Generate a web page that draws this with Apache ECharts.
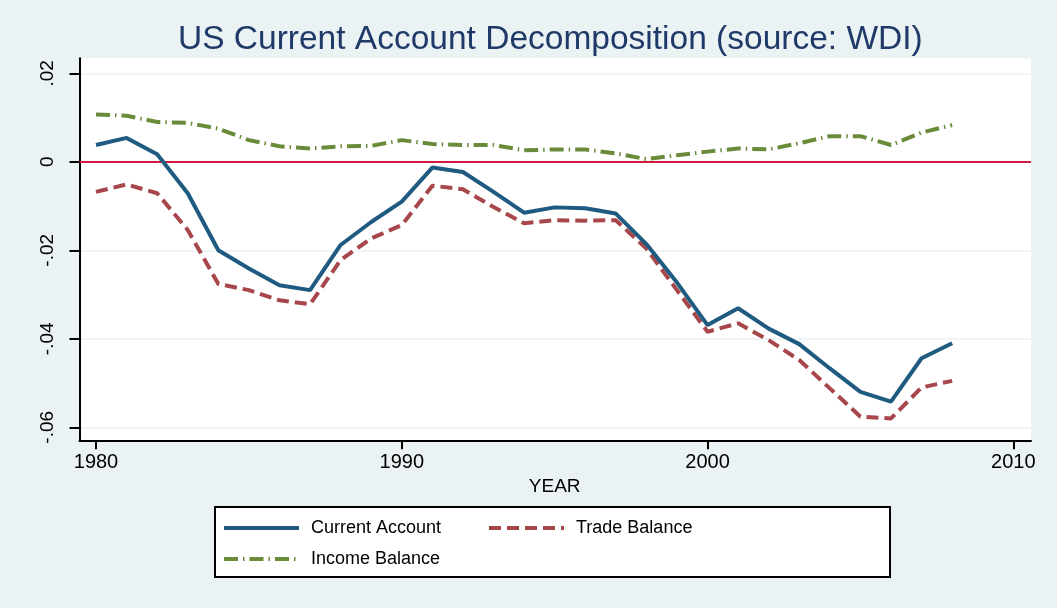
<!DOCTYPE html>
<html>
<head>
<meta charset="utf-8">
<script src="https://cdn.jsdelivr.net/npm/echarts@6/dist/echarts.min.js"></script>
<style>
html,body{margin:0;padding:0;background:#eaf2f3;}
#chart{width:1057px;height:608px;}
</style>
</head>
<body>
<div id="chart"></div>
<script>
const years = [1980,1981,1982,1983,1984,1985,1986,1987,1988,1989,1990,1991,1992,1993,1994,1995,1996,1997,1998,1999,2000,2001,2002,2003,2004,2005,2006,2007,2008];
const currentAccount = [0.0038,0.0054,0.0017,-0.0071,-0.0200,-0.0241,-0.0279,-0.0290,-0.0188,-0.0136,-0.0090,-0.0013,-0.0023,-0.0068,-0.0115,-0.0103,-0.0105,-0.0117,-0.0186,-0.0273,-0.0369,-0.0331,-0.0377,-0.0412,-0.0467,-0.0520,-0.0542,-0.0444,-0.0410];
const tradeBalance = [-0.0068,-0.0051,-0.0071,-0.0154,-0.0276,-0.0290,-0.0313,-0.0322,-0.0222,-0.0173,-0.0143,-0.0054,-0.0062,-0.0102,-0.0139,-0.0132,-0.0133,-0.0132,-0.0196,-0.0290,-0.0384,-0.0365,-0.0403,-0.0448,-0.0512,-0.0576,-0.0580,-0.0510,-0.0495];
const incomeBalance = [0.0107,0.0104,0.0090,0.0088,0.0075,0.0049,0.0035,0.0030,0.0035,0.0036,0.0049,0.0040,0.0038,0.0038,0.0026,0.0028,0.0028,0.0019,0.0006,0.0015,0.0023,0.0030,0.0028,0.0042,0.0058,0.0058,0.0038,0.0066,0.0083];
const yTickValues = [-0.06,-0.04,-0.02,0,0.02];
const yTickLabels = ['-.06','-.04','-.02','0','.02'];
const xTickValues = [1980,1990,2000,2010];
const seriesNames = ['Current Account','Trade Balance','Income Balance'];
const titleText = 'US Current Account Decomposition (source: WDI)';
const xAxisTitle = 'YEAR';

const FONT = '"Liberation Sans", Arial, Helvetica, sans-serif';
const pairs = arr => years.map((y, i) => [y, arr[i]]);
const yLabel = v => {
  const idx = yTickValues.findIndex(t => Math.abs(t - v) < 1e-9);
  return idx >= 0 ? yTickLabels[idx] : '';
};
const legendCommon = {
  padding: 0, itemWidth: 75, itemHeight: 16, selectedMode: false,
  itemStyle: {opacity: 0, borderWidth: 0},
  lineStyle: {width: 4},
  textStyle: {color: '#000', fontSize: 18, fontFamily: FONT, padding: [0,0,0,7]}
};

const chart = echarts.init(document.getElementById('chart'), null, {renderer: 'canvas'});
chart.setOption({
  backgroundColor: '#eaf2f3',
  animation: false,
  title: {
    text: titleText,
    left: 178, top: 23, padding: 0,
    textStyle: {color: '#1f3a68', fontSize: 33.5, fontWeight: 'normal', fontFamily: FONT}
  },
  grid: [
    {left: 79.5, right: 26, top: 58.3, bottom: 167.7, show: true, backgroundColor: '#ffffff', borderWidth: 0},
    {left: 79.5, right: 26, top: 73.3, bottom: 180.7},
    {left: 96, right: 43.7, top: 58.3, bottom: 167.7}
  ],
  xAxis: [
    {type: 'value', gridIndex: 0, min: 1979.46, max: 2010.579,
     axisLine: {show: true, onZero: false, lineStyle: {color: '#000', width: 2}},
     axisTick: {show: false}, axisLabel: {show: false}, splitLine: {show: false}},
    {type: 'value', gridIndex: 1, min: 1980, max: 2010, show: false},
    {type: 'value', gridIndex: 2, min: 1980, max: 2010, interval: 10,
     name: xAxisTitle, nameLocation: 'middle', nameGap: 37,
     nameTextStyle: {color: '#000', fontSize: 19, fontFamily: FONT},
     axisLine: {show: false, onZero: false},
     axisTick: {show: true, length: 9, lineStyle: {color: '#000', width: 2}},
     axisLabel: {show: true, color: '#000', fontSize: 20, fontFamily: FONT, margin: 12,
                 formatter: v => xTickValues.includes(v) ? String(v) : ''},
     splitLine: {show: false}}
  ],
  yAxis: [
    {type: 'value', gridIndex: 0, min: -0.06294, max: 0.02339,
     axisLine: {show: true, onZero: false, lineStyle: {color: '#000', width: 2}},
     axisTick: {show: false}, axisLabel: {show: false}, splitLine: {show: false}},
    {type: 'value', gridIndex: 1, min: -0.06, max: 0.02, interval: 0.02,
     axisLine: {show: false, onZero: false},
     axisTick: {show: true, length: 10, lineStyle: {color: '#000', width: 2}},
     axisLabel: {show: true, rotate: 90, color: '#000', fontSize: 19, fontFamily: FONT, margin: 22,
                 formatter: yLabel},
     splitLine: {show: true, lineStyle: {color: '#eaf2f3', width: 1.5}}},
    {type: 'value', gridIndex: 2, min: -0.06, max: 0.02, show: false}
  ],
  legend: [
    Object.assign({data: [seriesNames[0]], left: 222, top: 519}, legendCommon),
    Object.assign({data: [seriesNames[1]], left: 487, top: 519}, legendCommon),
    Object.assign({data: [seriesNames[2]], left: 222, top: 550}, legendCommon)
  ],
  graphic: [
    {type: 'rect', z: -1, shape: {x: 215, y: 507, width: 675, height: 70},
     style: {fill: '#ffffff', stroke: '#000000', lineWidth: 2}}
  ],
  series: [
    {name: seriesNames[0], type: 'line', xAxisIndex: 0, yAxisIndex: 0, data: pairs(currentAccount),
     symbol: 'none', showSymbol: false, z: 5,
     lineStyle: {color: '#1f5a80', width: 4, type: 'solid'}, itemStyle: {color: '#1f5a80'},
     markLine: {silent: true, symbol: 'none', label: {show: false}, z: 1,
                lineStyle: {color: '#d01c3c', width: 2, type: 'solid', opacity: 1}, data: [{yAxis: 0}]}},
    {name: seriesNames[1], type: 'line', xAxisIndex: 0, yAxisIndex: 0, data: pairs(tradeBalance),
     symbol: 'none', showSymbol: false, z: 4,
     lineStyle: {color: '#a8474b', width: 4, type: [12, 6]}, itemStyle: {color: '#a8474b'}},
    {name: seriesNames[2], type: 'line', xAxisIndex: 0, yAxisIndex: 0, data: pairs(incomeBalance),
     symbol: 'none', showSymbol: false, z: 3,
     lineStyle: {color: '#6a8c3a', width: 4, type: [14, 5, 1.5, 5]}, itemStyle: {color: '#6a8c3a'}}
  ]
});
</script>
</body>
</html>
